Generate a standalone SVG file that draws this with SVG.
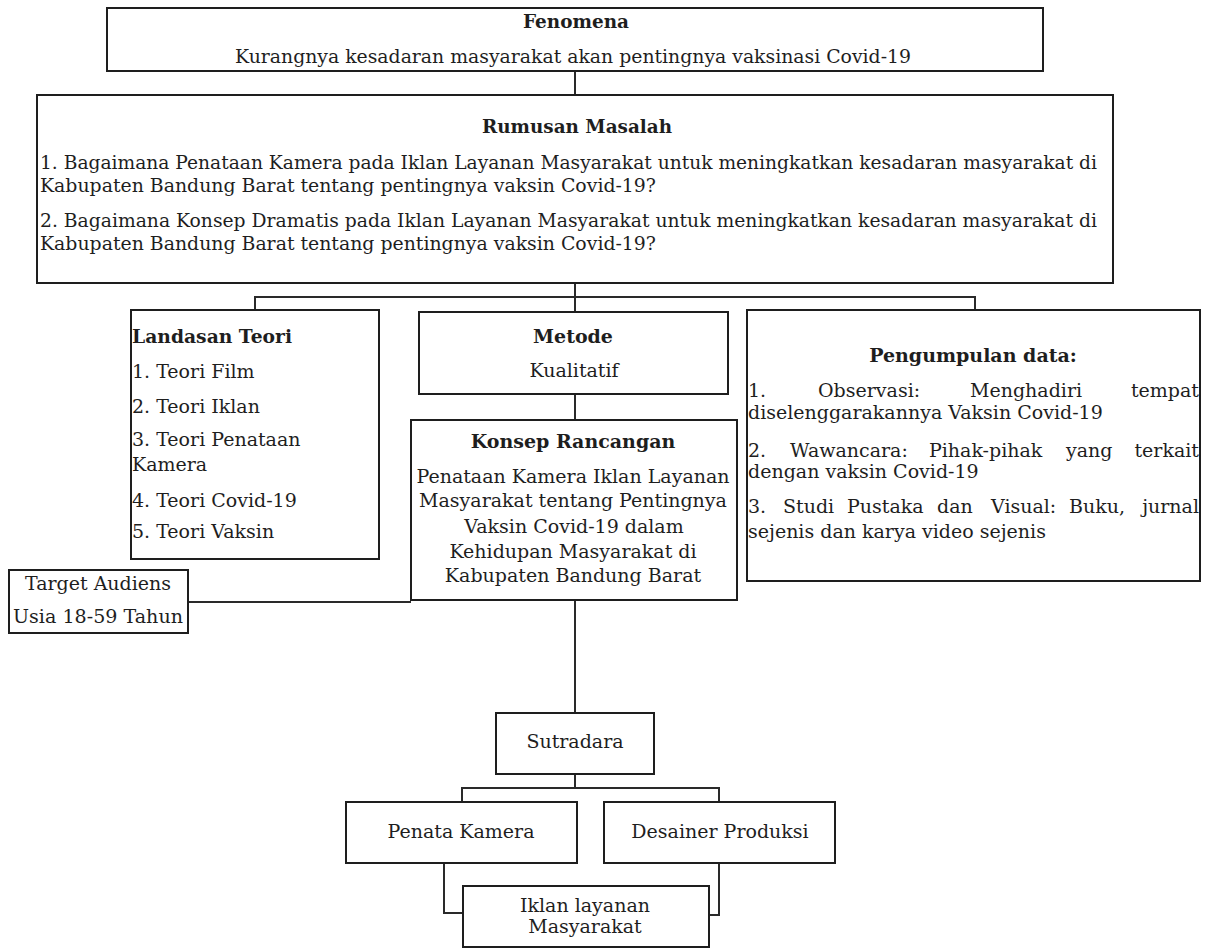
<svg xmlns="http://www.w3.org/2000/svg" width="1213" height="949" viewBox="0 0 1213 949">
<style>
  .box{fill:#fff;stroke:#1e1e1e;stroke-width:2}
  .ln{fill:none;stroke:#2a2a2a;stroke-width:2}
  text{font-family:"DejaVu Serif","Liberation Serif",serif;font-size:19px;fill:#1e1e1e}
  .b{font-weight:bold}
  .c{text-anchor:middle}
  .e{text-anchor:end}
</style>
<rect width="1213" height="949" fill="#fff"/>
<g id="connectors">
  <line class="ln" x1="575" y1="71" x2="575" y2="95"/>
  <polyline class="ln" points="575,283 575,297"/>
  <polyline class="ln" points="255,310 255,297 975,297 975,310"/>
  <line class="ln" x1="575" y1="297" x2="575" y2="312"/>
  <line class="ln" x1="575" y1="394" x2="575" y2="420"/>
  <line class="ln" x1="575" y1="600" x2="575" y2="713"/>
  <line class="ln" x1="188" y1="602" x2="411" y2="602"/>
  <line class="ln" x1="575" y1="774" x2="575" y2="788"/>
  <polyline class="ln" points="462,802 462,788 719,788 719,802"/>
  <polyline class="ln" points="444,863 444,913 463,913"/>
  <polyline class="ln" points="719,863 719,915 709,915"/>
</g>
<g id="fenomena">
  <rect class="box" x="107" y="8" width="936" height="63"/>
  <text class="b c" x="576" y="28" textLength="106" lengthAdjust="spacingAndGlyphs">Fenomena</text>
  <text x="235" y="63" textLength="676" lengthAdjust="spacingAndGlyphs">Kurangnya kesadaran masyarakat akan pentingnya vaksinasi Covid-19</text>
</g>
<g id="rumusan">
  <rect class="box" x="37" y="95" width="1076" height="188"/>
  <text class="b c" x="577" y="133" textLength="190" lengthAdjust="spacingAndGlyphs">Rumusan Masalah</text>
  <text x="40" y="169" textLength="1057" lengthAdjust="spacingAndGlyphs">1. Bagaimana Penataan Kamera pada Iklan Layanan Masyarakat untuk meningkatkan kesadaran masyarakat di</text>
  <text x="40" y="192" textLength="616" lengthAdjust="spacingAndGlyphs">Kabupaten Bandung Barat tentang pentingnya vaksin Covid-19?</text>
  <text x="40" y="227" textLength="1057" lengthAdjust="spacingAndGlyphs">2. Bagaimana Konsep Dramatis pada Iklan Layanan Masyarakat untuk meningkatkan kesadaran masyarakat di</text>
  <text x="40" y="250" textLength="616" lengthAdjust="spacingAndGlyphs">Kabupaten Bandung Barat tentang pentingnya vaksin Covid-19?</text>
</g>
<g id="landasan">
  <rect class="box" x="131" y="310" width="248" height="249"/>
  <text class="b" x="132" y="343" textLength="160" lengthAdjust="spacingAndGlyphs">Landasan Teori</text>
  <text x="132" y="378">1. Teori Film</text>
  <text x="132" y="413">2. Teori Iklan</text>
  <text x="132" y="446">3. Teori Penataan</text>
  <text x="132" y="471">Kamera</text>
  <text x="132" y="507">4. Teori Covid-19</text>
  <text x="132" y="538">5. Teori Vaksin</text>
</g>
<g id="metode">
  <rect class="box" x="419" y="312" width="309" height="82"/>
  <text class="b c" x="573" y="343">Metode</text>
  <text class="c" x="574" y="377">Kualitatif</text>
</g>
<g id="konsep">
  <rect class="box" x="411" y="420" width="326" height="180"/>
  <text class="b c" x="573" y="448">Konsep Rancangan</text>
  <text class="c" x="573" y="483">Penataan Kamera Iklan Layanan</text>
  <text class="c" x="573" y="507">Masyarakat tentang Pentingnya</text>
  <text class="c" x="574" y="533">Vaksin Covid-19 dalam</text>
  <text class="c" x="573" y="558">Kehidupan Masyarakat di</text>
  <text class="c" x="573" y="582">Kabupaten Bandung Barat</text>
</g>
<g id="pengumpulan">
  <rect class="box" x="747" y="310" width="453" height="271"/>
  <text class="b c" x="973" y="362">Pengumpulan data:</text>
  <text x="748" y="397">1.</text>
  <text x="818" y="397">Observasi:</text>
  <text x="970" y="397">Menghadiri</text>
  <text class="e" x="1199" y="397">tempat</text>
  <text x="748" y="419">diselenggarakannya Vaksin Covid-19</text>
  <text x="748" y="457">2.</text>
  <text x="790" y="457">Wawancara:</text>
  <text x="929" y="457">Pihak-pihak</text>
  <text x="1066" y="457">yang</text>
  <text class="e" x="1199" y="457">terkait</text>
  <text x="748" y="478">dengan vaksin Covid-19</text>
  <text x="748" y="513">3.</text>
  <text x="783" y="513">Studi</text>
  <text x="847" y="513">Pustaka</text>
  <text x="937" y="513">dan</text>
  <text x="991" y="513">Visual:</text>
  <text x="1069" y="513">Buku,</text>
  <text class="e" x="1199" y="513">jurnal</text>
  <text x="748" y="538">sejenis dan karya video sejenis</text>
</g>
<g id="target">
  <rect class="box" x="9" y="570" width="179" height="63"/>
  <text class="c" x="98" y="590">Target Audiens</text>
  <text class="c" x="98" y="623" textLength="170" lengthAdjust="spacingAndGlyphs">Usia 18-59 Tahun</text>
</g>
<g id="sutradara">
  <rect class="box" x="496" y="713" width="158" height="61"/>
  <text class="c" x="575" y="748">Sutradara</text>
</g>
<g id="penata">
  <rect class="box" x="346" y="802" width="231" height="61"/>
  <text class="c" x="461" y="838">Penata Kamera</text>
</g>
<g id="desainer">
  <rect class="box" x="604" y="802" width="231" height="61"/>
  <text class="c" x="720" y="838">Desainer Produksi</text>
</g>
<g id="iklan">
  <rect class="box" x="463" y="886" width="246" height="61"/>
  <text class="c" x="585" y="912">Iklan layanan</text>
  <text class="c" x="585" y="933">Masyarakat</text>
</g>
</svg>
